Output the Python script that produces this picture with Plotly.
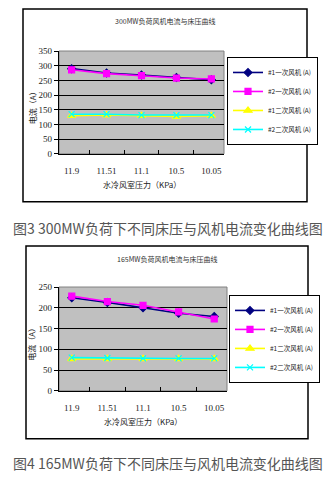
import plotly.graph_objects as go

W, H = 336, 482

pressure = ["11.9", "11.51", "11.1", "10.5", "10.05"]
series_names = ["#1一次风机 (A)", "#2一次风机 (A)", "#1二次风机 (A)", "#2二次风机 (A)"]

# 300MW load: fan currents (A)
p300_fan1_primary = [290, 275, 268, 260, 252]
p300_fan2_primary = [286, 273, 266, 258, 255]
p300_fan1_secondary = [130, 132, 130, 127, 130]
p300_fan2_secondary = [135, 135, 132, 132, 132]

# 165MW load: fan currents (A)
p165_fan1_primary = [224, 213, 200, 187, 179]
p165_fan2_primary = [228, 215, 206, 190, 173]
p165_fan1_secondary = [77, 77, 77, 77, 77]
p165_fan2_secondary = [80, 79, 78, 78, 78]

chart_titles = ["300MW负荷风机电流与床压曲线", "165MW负荷风机电流与床压曲线"]
captions = ["图3 300MW负荷下不同床压与风机电流变化曲线图", "图4 165MW负荷下不同床压与风机电流变化曲线图"]
x_title = "水冷风室压力（KPa）"
y_title = "电流（A）"

styles = [
    dict(color="#000080", symbol="diamond", size=6),
    dict(color="#FF00FF", symbol="square", size=6),
    dict(color="#FFFF00", symbol="triangle-up", size=7),
    dict(color="#00FFFF", symbol="x-thin-open", size=6),
]

FONT = "Liberation Serif, Noto Sans CJK SC"
CJK = "Noto Sans CJK SC"


def px(x):
    return x / W


def py(y):
    return 1 - y / H


fig = go.Figure()

panels = [
    dict(data=[p300_fan1_primary, p300_fan2_primary, p300_fan1_secondary, p300_fan2_secondary],
         xa="x", ya="y", legend="legend", ymax=350,
         plot=(59, 224, 47, 152), box=(23, 4, 307, 201), title_y=16,
         legend_pos=(227, 98), caption_y=228),
    dict(data=[p165_fan1_primary, p165_fan2_primary, p165_fan1_secondary, p165_fan2_secondary],
         xa="x2", ya="y2", legend="legend2", ymax=250,
         plot=(59, 227, 288, 394), box=(26, 246, 308, 443), title_y=259,
         legend_pos=(229, 341), caption_y=468),
]

shapes = []
annotations = []
layout_axes = {}


def label(text, x, y, size, color="#222", angle=0):
    return dict(text=text, xref="paper", yref="paper", x=px(x), y=py(y),
                xanchor="center", yanchor="middle", textangle=angle,
                showarrow=False, font=dict(family=CJK, size=size, color=color))


for i, pnl in enumerate(panels):
    for name, vals, st in zip(series_names, pnl["data"], styles):
        fig.add_trace(go.Scatter(
            x=pressure, y=vals, name=name, mode="lines+markers",
            xaxis=pnl["xa"], yaxis=pnl["ya"], legend=pnl["legend"],
            line=dict(color=st["color"], width=1.6),
            marker=dict(color=st["color"], symbol=st["symbol"], size=st["size"],
                        line=dict(color=st["color"], width=1.2)),
        ))
    x0, x1, y0, y1 = pnl["plot"]
    suffix = "" if i == 0 else "2"
    layout_axes["xaxis" + suffix] = dict(
        domain=[px(x0), px(x1)], anchor="y" + suffix, type="category",
        tickson="boundaries", ticks="inside", ticklen=4, tickcolor="black",
        showline=True, linecolor="black", linewidth=1.2, showgrid=False,
        tickfont=dict(family=FONT, size=9, color="#222"), ticklabelstandoff=8,
        fixedrange=True,
    )
    layout_axes["yaxis" + suffix] = dict(
        domain=[py(y1), py(y0)], anchor="x" + suffix, range=[0, pnl["ymax"]],
        dtick=50, ticks="outside", ticklen=4, tickcolor="black",
        showline=True, linecolor="black", linewidth=1.2,
        showgrid=True, gridcolor="black", gridwidth=1,
        tickfont=dict(family=FONT, size=9, color="#222"),
        zeroline=False, fixedrange=True,
    )
    # plot area border
    shapes.append(dict(type="rect", xref="paper", yref="paper",
                       x0=px(x0), x1=px(x1), y0=py(y1), y1=py(y0),
                       line=dict(color="#808080", width=1), layer="below"))
    # chart border
    bx0, by0, bx1, by1 = pnl["box"]
    shapes.append(dict(type="rect", xref="paper", yref="paper",
                       x0=px(bx0), x1=px(bx1), y0=py(by1), y1=py(by0),
                       line=dict(color="black", width=1.5)))
    annotations.append(label(chart_titles[i], (bx0 + bx1) / 2, pnl["title_y"], 7, "#333"))
    annotations.append(label(x_title, (x0 + x1) / 2, y1 + 31, 8))
    annotations.append(label(y_title, 32, (y0 + y1) / 2 + 4, 8, angle=-90))
    annotations.append(label(captions[i], W / 2, pnl["caption_y"], 14, "#555"))
    lx, ly = pnl["legend_pos"]
    layout_axes[pnl["legend"]] = dict(
        x=px(lx), y=py(ly), xanchor="left", yanchor="middle",
        bgcolor="white", bordercolor="black", borderwidth=1,
        font=dict(family=CJK, size=6.5, color="#222"),
        itemwidth=30, tracegroupgap=0, itemsizing="trace",
    )

fig.update_layout(
    width=W, height=H,
    margin=dict(l=0, r=0, t=0, b=0),
    paper_bgcolor="white",
    plot_bgcolor="#C0C0C0",
    showlegend=True,
    shapes=shapes,
    annotations=annotations,
    **layout_axes,
)

fig.write_html("out.html", config=dict(displayModeBar=False))
